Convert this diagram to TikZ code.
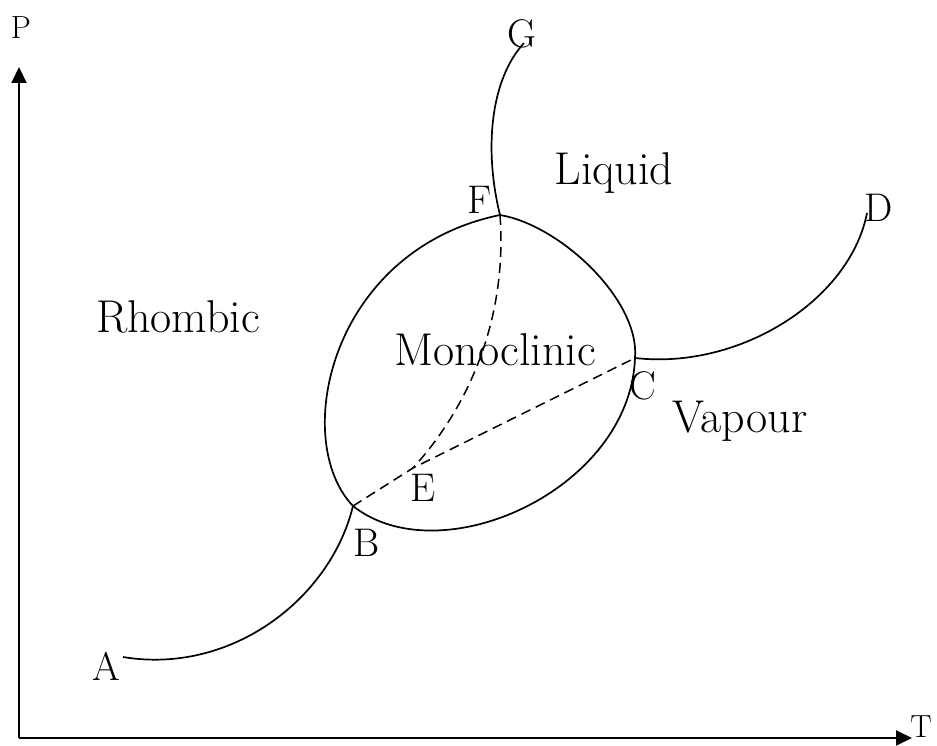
\documentclass[tikz,border=0pt]{standalone}
\usetikzlibrary{arrows.meta}
\begin{document}
\begin{tikzpicture}[x=1pt,y=-1pt,
  curve/.style={line width=1.7pt},
  dashcurve/.style={line width=1.5pt,dash pattern=on 10pt off 6pt},
  axis/.style={line width=1.9pt,-{Triangle[length=16pt,width=15pt]}},
  lbl/.style={font=\fontsize{46}{50}\selectfont,inner sep=0pt,anchor=base},
  pt/.style={font=\fontsize{40}{44}\selectfont,inner sep=0pt},
  axl/.style={font=\fontsize{32}{36}\selectfont,inner sep=0pt}]
\useasboundingbox (0,0) rectangle (937,746);
% axes
\coordinate (O) at (19,738);
\coordinate (Ptip) at (19,67);
\coordinate (Ttip) at (912,738);
\draw[axis] (O) -- (Ptip);
\draw[axis] (O) -- (Ttip);
\node[axl] (Pl) at (21,28) {P};
\node[axl,anchor=east] (Tl) at (932,727) {T};
% key points
\coordinate (A) at (123,657);
\coordinate (B) at (353,506);
\coordinate (C) at (635,358);
\coordinate (D) at (867,213);
\coordinate (E) at (413,468);
\coordinate (F) at (500,215);
\coordinate (G) at (524,43);
% solid curves
\draw[curve] (A) .. controls (230,675) and (330,600) .. (B);
\draw[curve] (B) .. controls (290,440) and (330,250) .. (F);
\draw[curve] (F) .. controls (560,225) and (640,300) .. (C);
\draw[curve] (C) .. controls (630,490) and (440,575) .. (B);
\draw[curve] (C) .. controls (740,370) and (850,300) .. (D);
\draw[curve] (F) .. controls (484,150) and (490,80) .. (G);
% dashed
\draw[dashcurve] (F) .. controls (507,310) and (475,400) .. (E);
\draw[dashcurve] (B) -- (E) -- (C);
% point labels
\node[pt] (Al) at (106,666) {A};
\node[pt] (Bl) at (367,543) {B};
\node[pt] (Cl) at (643,386) {C};
\node[pt] (Dl) at (879,208) {D};
\node[pt] (El) at (423,488) {E};
\node[pt] (Fl) at (480,200) {F};
\node[pt] (Gl) at (522,34) {G};
% region labels
\node[lbl] (liq) at (614,185) {Liquid};
\node[lbl] (rho) at (178,332) {Rhombic};
\node[lbl] (mono) at (495,365) {Monoclinic};
\node[lbl] (vap) at (740,432) {Vapour};
\end{tikzpicture}
\end{document}
